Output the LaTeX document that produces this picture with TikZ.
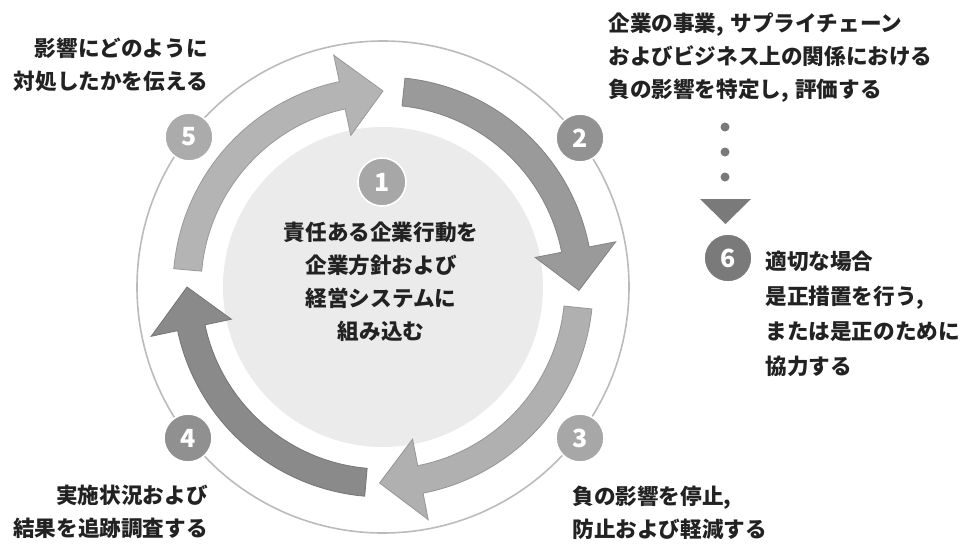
\documentclass[tikz,border=0pt]{standalone}
\usepackage{fontspec}
\newfontfamily\jp{Noto Sans CJK JP}
\begin{document}
\begin{tikzpicture}[x=0.5pt,y=0.5pt,
  txt/.style={inner sep=0pt, text=txtcol, font=\jp\bfseries\fontsize{10.8}{16.5}\selectfont},
  badge/.style={circle, minimum size=24pt, inner sep=0pt, draw=white, line width=0.8pt, text=white, font=\jp\bfseries\fontsize{12.5}{14}\selectfont}]
\definecolor{txtcol}{HTML}{222222}
\definecolor{ringcol}{HTML}{BBBBBB}
\definecolor{diskcol}{HTML}{EBEBEB}
\definecolor{arrA}{HTML}{B4B4B4}
\definecolor{arrB}{HTML}{9A9A9A}
\definecolor{arrC}{HTML}{B0B0B0}
\definecolor{arrD}{HTML}{8A8A8A}
\definecolor{dotcol}{HTML}{7A7A7A}
\fill[white] (0,0) rectangle (962,543);
\useasboundingbox (0,0) rectangle (962,543);
% outer ring and inner disk
\draw[ringcol, line width=0.8pt] (383,256) circle[radius=246];
\fill[diskcol] (383,256) circle[radius=160];
% curved arrows
\begin{scope}[shift={(383,256)}]
\foreach \t/\c in {90/arrA, -1/arrB, -91/arrC, 180/arrD}{
  \pgfmathsetmacro\s{\t+85}
  \pgfmathsetmacro\b{\t+12}
  \filldraw[fill=\c, draw=\c!85!black, line width=0.4pt, line join=miter]
    (\s:210) arc[start angle=\s, end angle=\b, radius=210]
    -- (\b:237) -- (\t:196) -- (\b:155) -- (\b:182)
    arc[start angle=\b, end angle=\s, radius=182] -- cycle;
}
\end{scope}
% badges
\node[badge, fill=arrA!95!black] (b5) at (189,406) {5};
\node[badge, fill=arrB!95!black] (b2) at (580,405) {2};
\node[badge, fill=arrC!95!black] (b3) at (580,105) {3};
\node[badge, fill=arrD!95!white] (b4) at (188,105) {4};
\node[badge, fill=arrC!95!black] (b1) at (382,361) {1};
\node[badge, fill=dotcol] (b6) at (728,285) {6};
% dots and triangle
\fill[dotcol] (725,416) circle[radius=4.5];
\fill[dotcol] (725,391) circle[radius=4.5];
\fill[dotcol] (725,366) circle[radius=4.5];
\fill[dotcol] (700,344) -- (751,344) -- (725.5,319) -- cycle;
% texts
\node[txt, anchor=east, align=right] (t5) at (208,478) {影響にどのように\\対処したかを伝える};
\node[txt, anchor=west, align=left] (t2) at (608,485.5) {企業の事業,\hspace{0.3em}サプライチェーン\\およびビジネス上の関係における\\負の影響を特定し,\hspace{0.3em}評価する};
\node[txt, anchor=west, align=left, font=\jp\bfseries\fontsize{10.8}{17.5}\selectfont] (t6) at (765,229.5) {適切な場合\\是正措置を行う,\\または是正のために\\協力する};
\node[txt, align=center] (t1) at (381,261) {責任ある企業行動を\\企業方針および\\経営システムに\\組み込む};
\node[txt, anchor=east, align=right] (t4) at (208,31.5) {実施状況および\\結果を追跡調査する};
\node[txt, anchor=west, align=left] (t3) at (572,30.5) {負の影響を停止,\\防止および軽減する};
\end{tikzpicture}
\end{document}
